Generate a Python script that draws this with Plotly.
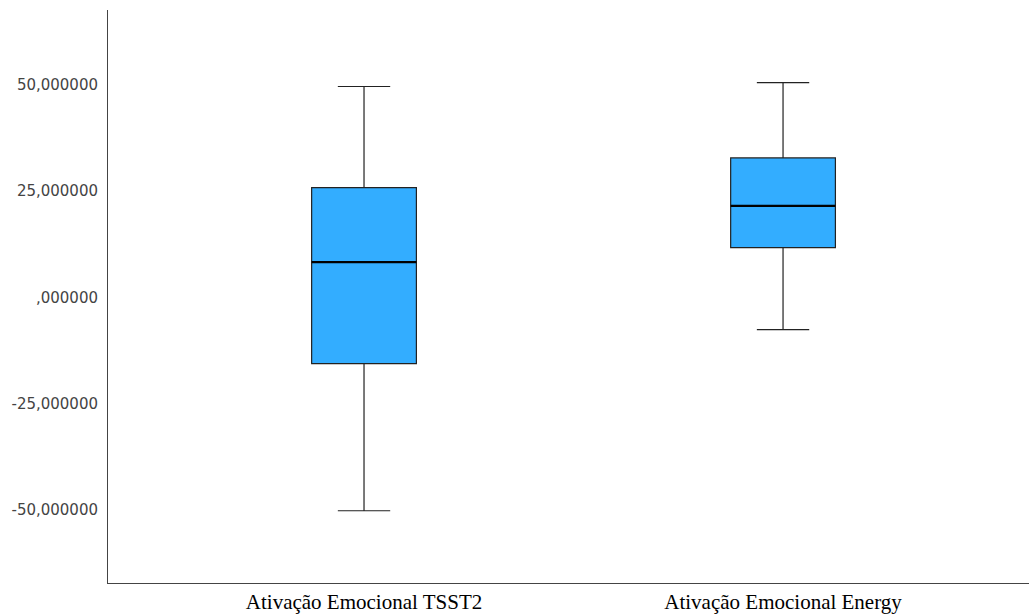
import plotly.graph_objects as go

# Summary statistics per variable
categories = ["Ativação Emocional TSST2", "Ativação Emocional Energy"]
lower_whisker = [-50.2, -7.6]
q1_values = [-15.6, 11.7]
median_values = [8.3, 21.5]
q3_values = [25.8, 32.8]
upper_whisker = [49.6, 50.5]

tick_values = [50, 25, 0, -25, -50]
tick_labels = ["50,000000", "25,000000", ",000000", "-25,000000", "-50,000000"]

positions = list(range(len(categories)))
box_width = 0.25

fig = go.Figure()

fig.add_trace(go.Box(
    x=positions,
    q1=q1_values,
    median=median_values,
    q3=q3_values,
    lowerfence=lower_whisker,
    upperfence=upper_whisker,
    width=box_width,
    whiskerwidth=0.5,
    fillcolor="#33ADFF",
    line=dict(color="#222222", width=1.2),
    boxpoints=False,
    hoverinfo="skip",
    showlegend=False,
))

# Heavier median lines drawn over each box
for pos, med in zip(positions, median_values):
    fig.add_trace(go.Scatter(
        x=[pos - box_width / 2, pos + box_width / 2],
        y=[med, med],
        mode="lines",
        line=dict(color="#000000", width=2.2),
        hoverinfo="skip",
        showlegend=False,
    ))

fig.update_layout(
    width=1029,
    height=615,
    margin=dict(l=108, r=0, t=10, b=32),
    paper_bgcolor="white",
    plot_bgcolor="white",
    xaxis=dict(
        range=[-0.611, 1.587],
        tickvals=positions,
        ticktext=categories,
        showgrid=False,
        zeroline=False,
        showline=True,
        linecolor="#444444",
        linewidth=1,
        ticks="",
        automargin=False,
        ticklabelstandoff=0,
        tickfont=dict(family="Liberation Serif", size=21, color="#000000"),
    ),
    yaxis=dict(
        range=[-67.2, 67.6],
        tickvals=tick_values,
        ticktext=tick_labels,
        showgrid=False,
        zeroline=False,
        showline=True,
        linecolor="#444444",
        linewidth=1,
        ticks="",
        automargin=False,
        ticklabelstandoff=6,
        tickfont=dict(family="DejaVu Sans", size=15, color="#444444"),
    ),
)

fig.write_html("out.html")
